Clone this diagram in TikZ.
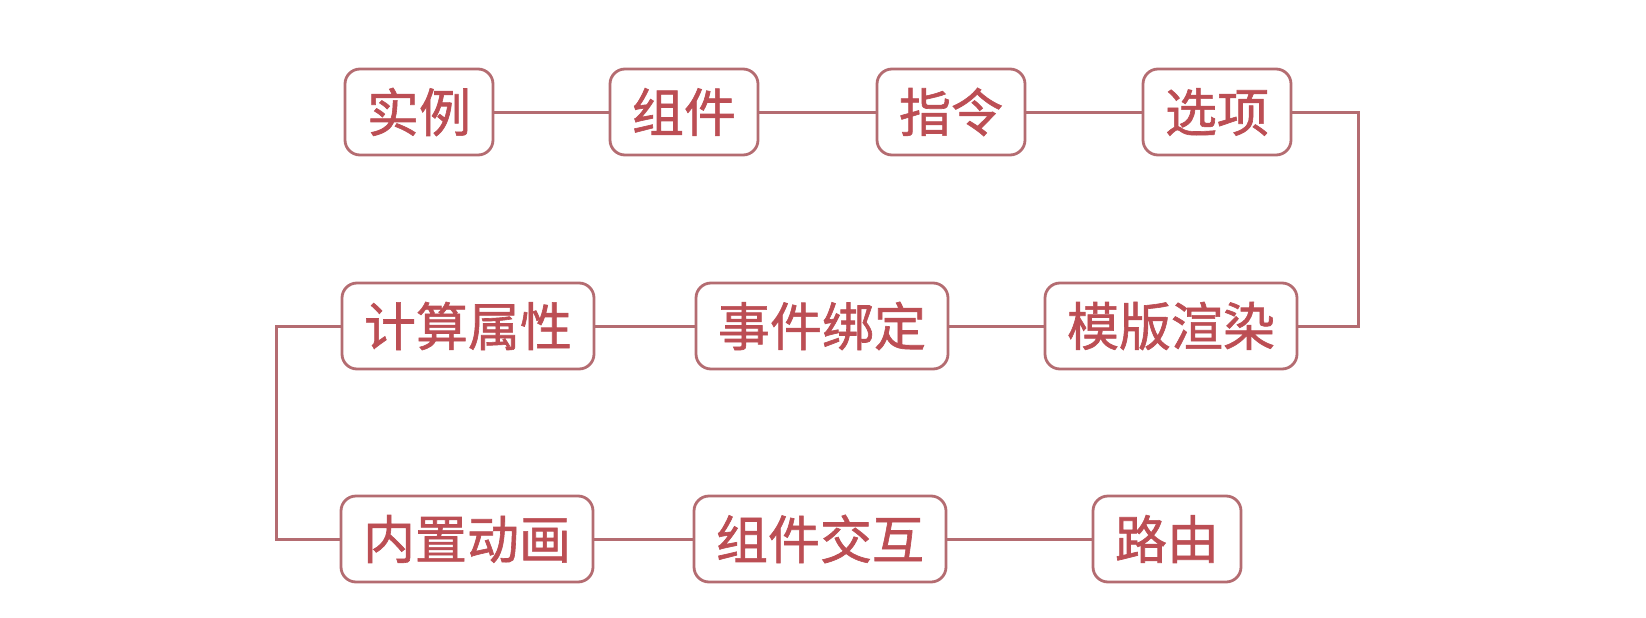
\documentclass[tikz,border=0pt]{standalone}
\usepackage{fontspec}
\setmainfont{Noto Sans CJK SC}
\newfontfamily\topicfont{Noto Sans CJK SC}[FakeBold=1.2]
\definecolor{linkred}{RGB}{180,108,113}
\definecolor{textred}{RGB}{188,78,84}

\begin{document}
\begin{tikzpicture}[x=1pt,y=-1pt,
    topic/.style={draw=linkred, line width=2.8pt, rounded corners=15pt, fill=white,
      minimum height=86pt, inner xsep=22pt, text=textred,
      font=\topicfont\fontsize{52}{52}\selectfont},
    link/.style={draw=linkred, line width=3pt}]
    \useasboundingbox (0,0) rectangle (1646,618);
    % first row
    \node[topic] (inst) at (419,112) {实例};
    \node[topic] (comp) at (684,112) {组件};
    \node[topic] (dir)  at (951,112) {指令};
    \node[topic] (opt)  at (1217,112) {选项};
    % second row
    \node[topic] (calc) at (468,326) {计算属性};
    \node[topic] (evt)  at (822,326) {事件绑定};
    \node[topic] (tpl)  at (1171,326) {模版渲染};
    % third row
    \node[topic] (anim) at (467,539) {内置动画};
    \node[topic] (inter) at (820,539) {组件交互};
    \node[topic] (route) at (1167,539) {路由};

    \draw[link] (inst) -- (comp);
    \draw[link] (comp) -- (dir);
    \draw[link] (dir) -- (opt);
    \draw[link] (opt.east) -- ++(66,0) |- (tpl.east);
    \draw[link] (tpl) -- (evt);
    \draw[link] (evt) -- (calc);
    \draw[link] (calc.west) -- ++(-64,0) |- (anim.west);
    \draw[link] (anim) -- (inter);
    \draw[link] (inter) -- (route);
\end{tikzpicture}
\end{document}
